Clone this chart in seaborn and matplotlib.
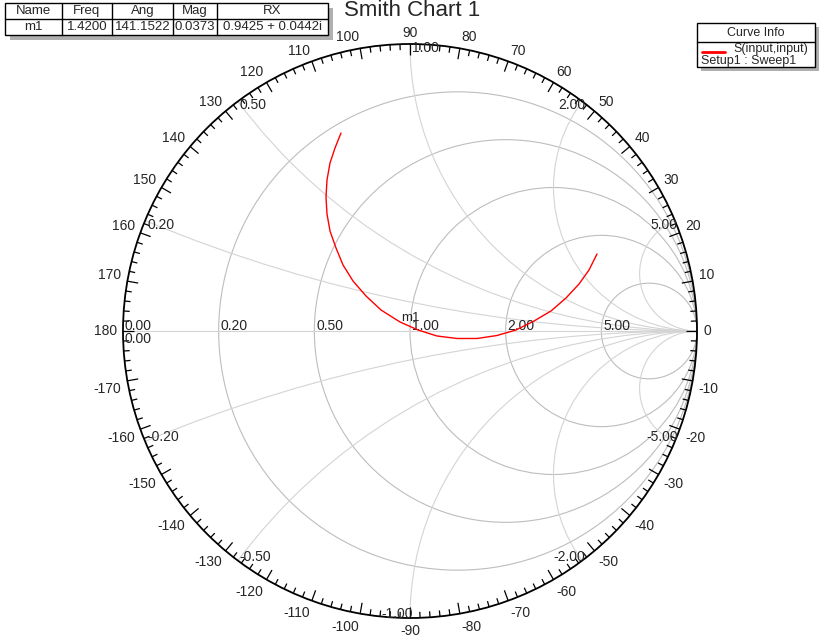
import numpy as np
import matplotlib
matplotlib.use('Agg')
import matplotlib.pyplot as plt
from matplotlib.patches import Circle, Rectangle
from matplotlib.collections import LineCollection
import seaborn as sns

# S(input,input) trace
gamma_re = [-0.2404, -0.2613, -0.2787, -0.2892, -0.2927, -0.2892, -0.2787,
            -0.2578, -0.2334, -0.1986, -0.1533, -0.1010, -0.0348, 0.0279,
            0.0941, 0.1638, 0.2334, 0.3031, 0.3693, 0.4321, 0.4913, 0.5436,
            0.5889, 0.6237, 0.6516]
gamma_im = [0.6899, 0.6376, 0.5854, 0.5261, 0.4669, 0.4077, 0.3484,
            0.2892, 0.2300, 0.1742, 0.1220, 0.0732, 0.0314, 0.0035,
            -0.0174, -0.0261, -0.0261, -0.0157, 0.0035, 0.0348, 0.0697, 0.1150,
            0.1638, 0.2125, 0.2683]

r_grid = [0.2, 0.5, 1.0, 2.0, 5.0]
x_grid = [0.2, 0.5, 1.0, 2.0, 5.0]
angle_ticks = list(range(-170, 181, 10))

# marker table
table_headers = ['Name', 'Freq', 'Ang', 'Mag', 'RX']
marker_name = 'm1'
marker_freq = 1.4200
marker_ang = 141.1522
marker_mag = 0.0373
marker_rx = '0.9425 + 0.0442i'

W, H = 825, 640
CX, CY, RPX = 410, 331, 287   # chart centre and radius in pixels

sns.set_style('white')
plt.rcParams['font.family'] = ['Liberation Sans', 'DejaVu Sans']

fig = plt.figure(figsize=(W / 100, H / 100), dpi=100)
fig.patch.set_facecolor('white')
ax = fig.add_axes([0, 0, 1, 1])


def d(px):
    return px / RPX


# grid: constant resistance circles
for r in r_grid:
    ax.add_patch(Circle((r / (1 + r), 0), 1 / (1 + r), fill=False,
                        ec='#bdbdbd', lw=0.8, zorder=1))
# grid: constant reactance arcs, clipped to the unit circle
clip = Circle((0, 0), 1, transform=ax.transData)
for x in x_grid:
    for s in (1, -1):
        arc = Circle((1, s / x), 1 / x, fill=False, ec='#d4d4d4', lw=0.8, zorder=1)
        ax.add_patch(arc)
        arc.set_clip_path(clip)
ax.plot([-1, 1], [0, 0], color='#d4d4d4', lw=0.8, zorder=1)

# outer circle with angle ticks
ax.add_patch(Circle((0, 0), 1, fill=False, ec='black', lw=1.3, zorder=3))
segs = []
for a in range(0, 360, 2):
    t = np.deg2rad(a)
    L = 11 if a % 10 == 0 else 6
    segs.append([(np.cos(t), np.sin(t)), ((1 - d(L)) * np.cos(t), (1 - d(L)) * np.sin(t))])
ax.add_collection(LineCollection(segs, colors='black', linewidths=0.9, zorder=3))

# angle labels: nearest corner of the text sits just outside the rim
eps = 1e-6
for a in angle_ticks:
    t = np.deg2rad(a)
    c, s = np.cos(t), np.sin(t)
    ha = 'left' if c > eps else ('right' if c < -eps else 'center')
    va = 'baseline' if s > eps else ('top' if s < -eps else 'center')
    rr = 1 + d(6)
    ax.text(rr * c, rr * s + (d(1) if s > eps else 0), str(a), ha=ha, va=va,
            fontsize=10, zorder=4)

# resistance labels on the real axis
ax.text(-1 + d(1), d(1), '0.00', ha='left', va='baseline', fontsize=10, zorder=4)
ax.text(-1 + d(1), -d(1), '0.00', ha='left', va='top', fontsize=10, zorder=4)
for r in r_grid:
    g = (r - 1) / (r + 1)
    ax.text(g + d(2), d(1), f'{r:.2f}', ha='left', va='baseline', fontsize=10, zorder=4)

# reactance labels on the rim
for x in x_grid:
    gx = (x * x - 1) / (x * x + 1)
    gy = 2 * x / (x * x + 1)
    for s in (1, -1):
        if s > 0:
            ha = 'left' if gx <= 0 else 'right'
        else:
            ha = 'left' if gx < 0 else 'right'
        ox = d(2) if ha == 'left' else d(3)
        ax.text(gx + ox, s * gy - s * d(4), f'{s * x:.2f}', ha=ha, va='center',
                fontsize=10, zorder=4)

# the trace
sns.lineplot(x=gamma_re, y=gamma_im, sort=False, estimator=None, color='red',
             linewidth=1, ax=ax, legend=False, zorder=5)

# marker label
mt = np.deg2rad(marker_ang)
ax.text(marker_mag * np.cos(mt) + d(9), marker_mag * np.sin(mt) + d(6), marker_name,
        ha='center', va='center', fontsize=9.5, zorder=6)

ax.set_xlim(-CX / RPX, (W - CX) / RPX)
ax.set_ylim((CY - H) / RPX, CY / RPX)
ax.set_aspect('auto')
ax.axis('off')

# overlay in pixel coordinates for title, table and legend
ov = fig.add_axes([0, 0, 1, 1])
ov.set_xlim(0, W)
ov.set_ylim(H, 0)
ov.axis('off')

ov.text(CX + 2, 10, 'Smith Chart 1', ha='center', va='center', fontsize=16)

# marker table
tx0, tx1, ty0, ty1, tym = 5, 328, 3, 35, 18.5
ov.add_patch(Rectangle((tx0 + 5, ty0 + 5), tx1 - tx0, ty1 - ty0, fc='#b0b0b0', ec='none'))
ov.add_patch(Rectangle((tx0, ty0), tx1 - tx0, ty1 - ty0, fc='white', ec='black', lw=1))
ov.plot([tx0, tx1], [tym, tym], color='black', lw=1)
col_edges = [tx0, 62, 112, 173, 217, tx1]
for xe in col_edges[1:-1]:
    ov.plot([xe, xe], [ty0, ty1], color='black', lw=1)
row_vals = [marker_name, f'{marker_freq:.4f}', f'{marker_ang:.4f}',
            f'{marker_mag:.4f}', marker_rx]
for i, (hd, v) in enumerate(zip(table_headers, row_vals)):
    xc = (col_edges[i] + col_edges[i + 1]) / 2
    ov.text(xc, (ty0 + tym) / 2 + 0.5, hd, ha='center', va='center', fontsize=9.5)
    ov.text(xc, (tym + ty1) / 2 + 0.5, v, ha='center', va='center', fontsize=9.5)

# curve info legend
lx0, lx1, ly0, ly1 = 697, 815, 23, 67
ov.add_patch(Rectangle((lx0 + 4, ly0 + 4), lx1 - lx0, ly1 - ly0, fc='#b0b0b0', ec='none'))
ov.add_patch(Rectangle((lx0, ly0), lx1 - lx0, ly1 - ly0, fc='white', ec='black', lw=1))
ov.plot([lx0, lx1], [42, 42], color='black', lw=1)
ov.text((lx0 + lx1) / 2, 33, 'Curve Info', ha='center', va='center', fontsize=9)
ov.plot([702, 725], [52, 52], color='red', lw=2)
ov.text(733, 49, 'S(input,input)', ha='left', va='center', fontsize=9)
ov.text(701, 61, 'Setup1 : Sweep1', ha='left', va='center', fontsize=9)

plt.savefig('out.png', dpi=100, facecolor='white')
